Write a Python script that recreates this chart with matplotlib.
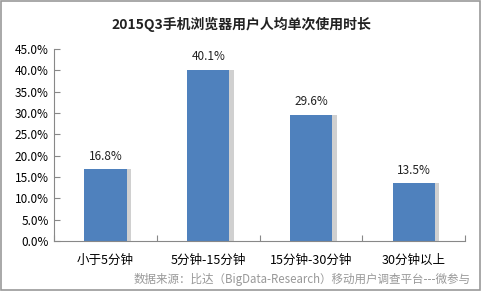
import matplotlib.pyplot as plt
from matplotlib.patches import Rectangle

plt.rcParams['font.family'] = ['Noto Sans CJK SC', 'DejaVu Sans']

categories = ['小于5分钟', '5分钟-15分钟', '15分钟-30分钟', '30分钟以上']
values = [16.8, 40.1, 29.6, 13.5]
yticks = [0, 5, 10, 15, 20, 25, 30, 35, 40, 45]

fig = plt.figure(figsize=(4.83, 2.91), dpi=100)
ax = fig.add_axes([0.112, 0.172, 0.851, 0.66])

x = range(len(categories))
width = 0.41
# soft shadow to the right of each bar
ax.bar([i + 0.045 for i in x], values, width=width, color='#d0d0d0', zorder=1)
ax.bar(x, values, width=width, color='#4f81bd', zorder=2)

for i, v in zip(x, values):
    ax.text(i, v + 1.5, f'{v:.1f}%', ha='center', va='bottom', fontsize=8.5, color='#222222')

ax.set_xlim(-0.5, 3.5)
ax.set_ylim(0, 45)
ax.set_yticks(yticks)
ax.set_yticklabels([f'{t:.1f}%' for t in yticks], fontsize=8.5)
ax.set_xticks([-0.5, 0.5, 1.5, 2.5, 3.5], minor=False)
ax.set_xticklabels([])
ax.set_xticks(list(x), minor=True)
ax.set_xticklabels(categories, minor=True, fontsize=9)
ax.tick_params(axis='x', which='minor', length=0, pad=9)
ax.tick_params(axis='x', which='major', length=4, direction='in', color='#888888')
ax.tick_params(axis='y', length=4, direction='in', color='#888888', pad=4)
for s in ['top', 'right']:
    ax.spines[s].set_visible(False)
ax.spines['left'].set_color('#888888')
ax.spines['bottom'].set_color('#888888')

fig.text(0.5, 0.915, '2015Q3手机浏览器用户人均单次使用时长', ha='center', va='center',
         fontsize=10, fontweight='bold', color='#222222')
fig.text(0.975, 0.038, '数据来源：比达（BigData-Research）移动用户调查平台---微参与',
         ha='right', va='center', fontsize=8.3, color='#999999', style='italic')

fig.patches.append(Rectangle((0.003, 0.005), 0.99, 0.99, transform=fig.transFigure,
                             fill=False, edgecolor='#999999', linewidth=1.2))

fig.savefig('out.png', dpi=100)
